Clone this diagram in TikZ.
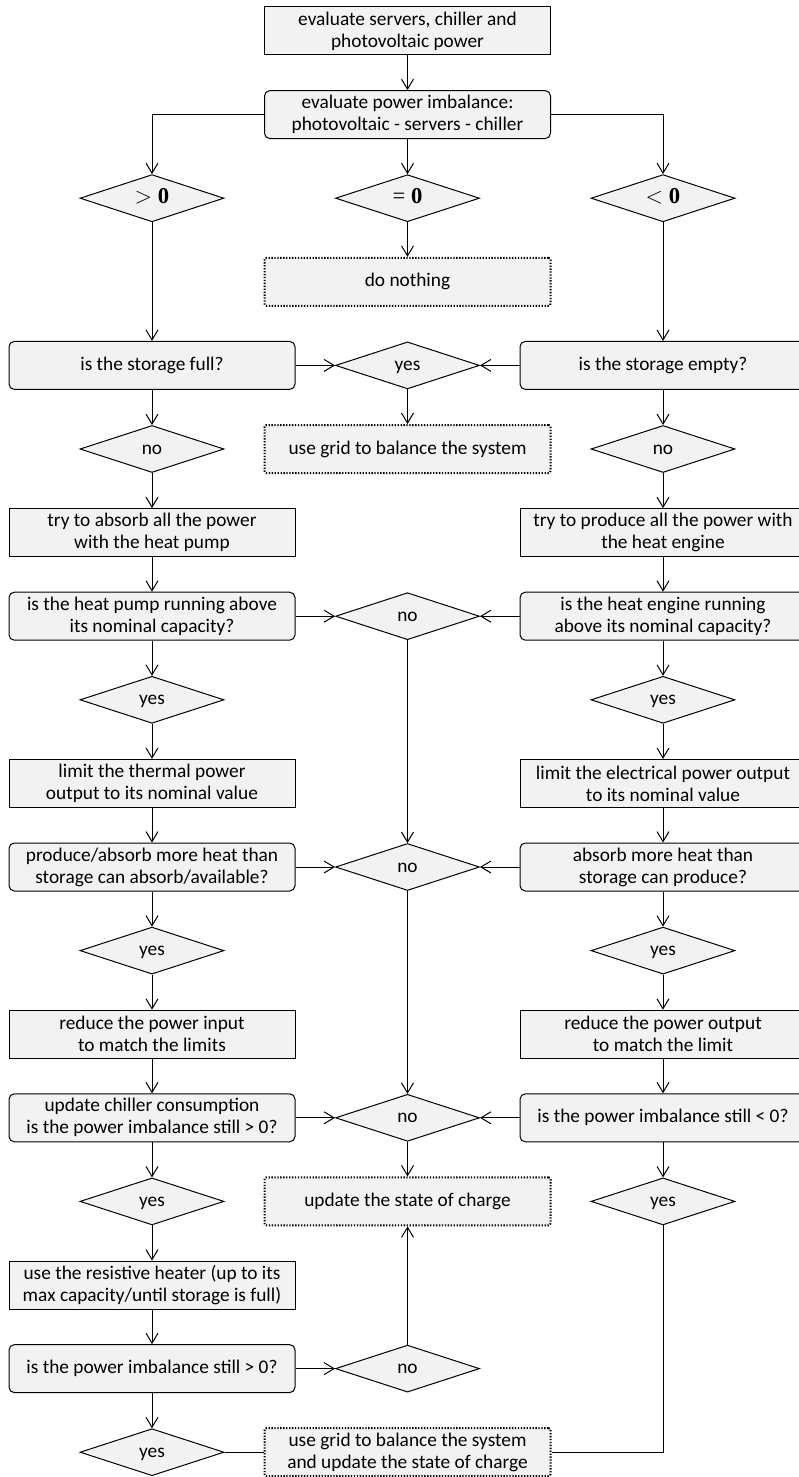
\documentclass[tikz,border=0pt]{standalone}
\usepackage{fontspec}
\setmainfont{Carlito}
\newfontfamily\tmsfont{Liberation Serif}
\usetikzlibrary{shapes.geometric,arrows.meta}
\definecolor{boxgray}{HTML}{F2F2F2}
\begin{document}
\begin{tikzpicture}[x=0.75pt,y=-0.75pt,
  base/.style={draw, line width=0.75pt, fill=boxgray, align=center, font=\fontsize{14.5}{16.5}\selectfont, inner sep=0pt},
  proc/.style={base, rectangle, minimum width=214.5pt, minimum height=36pt},
  ques/.style={proc, rounded corners=4pt},
  term/.style={proc, line width=1.5pt, dash pattern=on 1pt off 1.2pt, rounded corners=1.5pt},
  dec/.style={base, diamond, minimum width=108pt, minimum height=35.25pt, text height=0.85em, text depth=0.1em},
  sgn/.style={dec, font=\fontsize{17}{18}\selectfont\tmsfont},
  arr/.style={-{Straight Barb[length=7.5pt,width=9pt]}, line width=0.75pt},
  ln/.style={line width=0.75pt}
]
\useasboundingbox (0,0) rectangle (799,1477);
% columns 152, 407.5, 663 ; rows 31 + 83.6 i
\node[proc] (top) at (407.5,31) {evaluate servers, chiller and\\photovoltaic power};
\node[ques] (imb) at (407.5,114.6) {evaluate power imbalance:\\photovoltaic - servers - chiller};
\node[sgn] (gt) at (152,198.2) {$>$ \textbf{0}};
\node[sgn] (eq) at (407.5,198.2) {= \textbf{0}};
\node[sgn] (lt) at (663,198.2) {$<$ \textbf{0}};
\node[term] (nothing) at (407.5,281.8) {do nothing};
% row 4
\node[ques] (full) at (152,365.4) {is the storage full?};
\node[dec] (yesA) at (407.5,365.4) {yes};
\node[ques] (empty) at (663,365.4) {is the storage empty?};
% row 5
\node[dec] (noL1) at (152,449) {no};
\node[term] (grid1) at (407.5,449) {use grid to balance the system};
\node[dec] (noR1) at (663,449) {no};
% row 6
\node[proc] (absorb) at (152,532.6) {try to absorb all the power\\with the heat pump};
\node[proc] (produce) at (663,532.6) {try to produce all the power with\\the heat engine};
% row 7
\node[ques] (hp) at (152,616.2) {is the heat pump running above\\its nominal capacity?};
\node[dec] (noA) at (407.5,616.2) {no};
\node[ques] (he) at (663,616.2) {is the heat engine running\\above its nominal capacity?};
% row 8
\node[dec] (yesL1) at (152,699.8) {yes};
\node[dec] (yesR1) at (663,699.8) {yes};
% row 9
\node[proc] (limT) at (152,783.4) {limit the thermal power\\output to its nominal value};
\node[proc] (limE) at (663,783.4) {limit the electrical power output\\to its nominal value};
% row 10
\node[ques] (stL) at (152,867) {produce/absorb more heat than\\storage can absorb/available?};
\node[dec] (noB) at (407.5,867) {no};
\node[ques] (stR) at (663,867) {absorb more heat than\\storage can produce?};
% row 11
\node[dec] (yesL2) at (152,950.6) {yes};
\node[dec] (yesR2) at (663,950.6) {yes};
% row 12
\node[proc] (redIn) at (152,1034.2) {reduce the power input\\to match the limits};
\node[proc] (redOut) at (663,1034.2) {reduce the power output\\to match the limit};
% row 13
\node[ques] (chill) at (152,1117.8) {update chiller consumption\\is the power imbalance still > 0?};
\node[dec] (noC) at (407.5,1117.8) {no};
\node[ques] (stillLt) at (663,1117.8) {is the power imbalance still < 0?};
% row 14
\node[dec] (yesL3) at (152,1201.4) {yes};
\node[term] (soc) at (407.5,1201.4) {update the state of charge};
\node[dec] (yesR3) at (663,1201.4) {yes};
% row 15
\node[proc] (heater) at (152,1285) {use the resistive heater (up to its\\max capacity/until storage is full)};
% row 16
\node[ques] (stillGt) at (152,1368.6) {is the power imbalance still > 0?};
\node[dec] (noD) at (407.5,1368.6) {no};
% row 17
\node[dec] (yesL4) at (152,1452.2) {yes};
\node[term] (grid2) at (407.5,1452.2) {use grid to balance the system\\and update the state of charge};

% connectors
\draw[arr] (top) -- (imb);
\draw[arr] (imb.west) -| (gt);
\draw[arr] (imb) -- (eq);
\draw[arr] (imb.east) -| (lt);
\draw[arr] (eq) -- (nothing);
\draw[arr] (gt) -- (full);
\draw[arr] (lt) -- (empty);
\draw[arr] (full) -- (yesA);
\draw[arr] (empty) -- (yesA);
\draw[arr] (yesA) -- (grid1);
\draw[arr] (full) -- (noL1);
\draw[arr] (empty) -- (noR1);
\draw[arr] (noL1) -- (absorb);
\draw[arr] (noR1) -- (produce);
\draw[arr] (absorb) -- (hp);
\draw[arr] (produce) -- (he);
\draw[arr] (hp) -- (noA);
\draw[arr] (he) -- (noA);
\draw[arr] (hp) -- (yesL1);
\draw[arr] (he) -- (yesR1);
\draw[arr] (yesL1) -- (limT);
\draw[arr] (yesR1) -- (limE);
\draw[arr] (limT) -- (stL);
\draw[arr] (limE) -- (stR);
\draw[arr] (noA) -- (noB);
\draw[arr] (stL) -- (noB);
\draw[arr] (stR) -- (noB);
\draw[arr] (stL) -- (yesL2);
\draw[arr] (stR) -- (yesR2);
\draw[arr] (yesL2) -- (redIn);
\draw[arr] (yesR2) -- (redOut);
\draw[arr] (redIn) -- (chill);
\draw[arr] (redOut) -- (stillLt);
\draw[arr] (noB) -- (noC);
\draw[arr] (chill) -- (noC);
\draw[arr] (stillLt) -- (noC);
\draw[arr] (noC) -- (soc);
\draw[arr] (chill) -- (yesL3);
\draw[arr] (stillLt) -- (yesR3);
\draw[arr] (yesL3) -- (heater);
\draw[arr] (heater) -- (stillGt);
\draw[arr] (stillGt) -- (noD);
\draw[arr] (noD) -- (soc);
\draw[arr] (stillGt) -- (yesL4);
\draw[ln] (yesL4) -- (grid2);
\draw[ln] (yesR3) |- (grid2);
\end{tikzpicture}
\end{document}
